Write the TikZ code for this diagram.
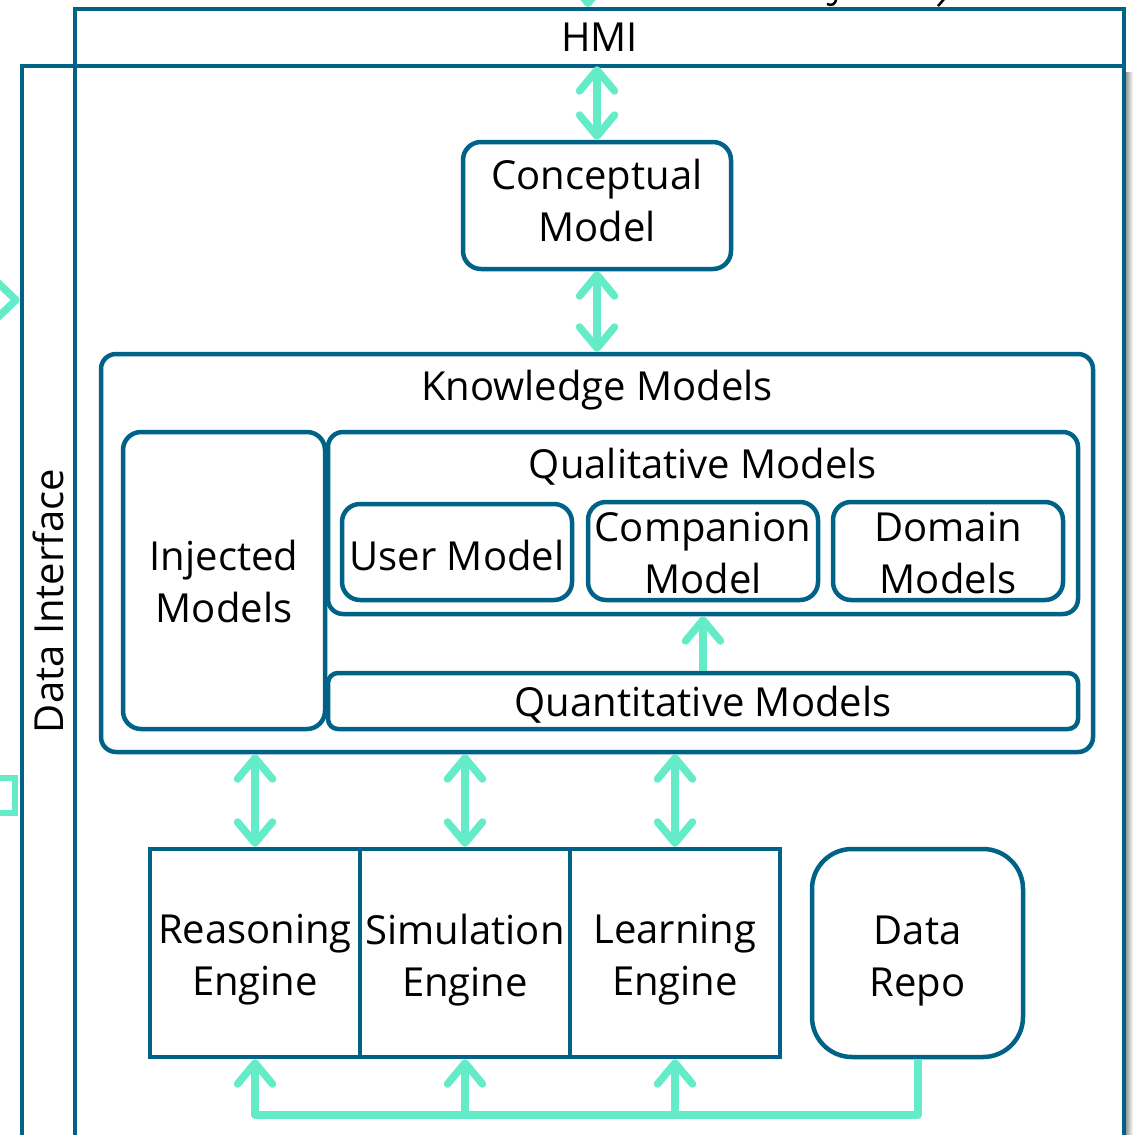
\documentclass[tikz,border=0pt]{standalone}
\usepackage{fontspec}
\setmainfont{Open Sans}
\usetikzlibrary{arrows.meta}
\definecolor{petrol}{RGB}{0,98,135}
\definecolor{mint}{RGB}{100,235,200}
\begin{document}
\begin{tikzpicture}[x=1pt,y=-1pt,
  fnt/.style={font=\fontsize{40}{52}\selectfont},
  rbox/.style={draw=petrol,line width=4.5pt,rounded corners=18pt,inner sep=0pt},
  sbox/.style={draw=petrol,line width=4.5pt,inner sep=0pt},
  lbl/.style={inner sep=0pt,align=center,fnt},
  flow/.style={draw=mint,line width=7.5pt},
  arr/.style={-{Straight Barb[length=21pt,width=35pt,round]}},
  biarr/.style={{Straight Barb[length=21pt,width=35pt,round]}-{Straight Barb[length=21pt,width=35pt,round]}}]
\useasboundingbox (0,0) rectangle (1133,1135);
\clip (0,0) rectangle (1133,1135);
\fill[white] (0,0) rectangle (1133,1135);
% right shadow
\shade[left color=black!40,right color=white] (1126,72) rectangle (1133,1135);
% outer frames
\draw[petrol,line width=4.5pt,line join=miter] (75,1145) -- (75,9) -- (1124,9) -- (1124,1145);
\draw[petrol,line width=4.5pt,line join=miter] (22,1145) -- (22,66) -- (1124,66);
\node[lbl,minimum width=1049pt,minimum height=57pt] (hmi) at (599.5,37.5) {HMI};
\node[lbl,rotate=90] (di) at (48,601) {Data Interface};
% cropped fragments of the surrounding diagram
\draw[flow,arr] (588,-40) -- (588,7);
\draw[line width=2.5pt] (836,-2) .. controls (836,5) and (831,6) .. (827,4);
\draw[line width=2.5pt] (945,-2) -- (938,6);
\draw[flow,line join=round] (-6,279) -- (16,300) -- (-6,321);
\draw[flow,line width=6pt] (-3,778) -- (15,778) -- (15,813) -- (-3,813);
% conceptual model
\node[rbox,minimum width=268pt,minimum height=127pt] (concept) at (597,205.5) {};
\node[lbl] (conceptt) at (597,200.5) {Conceptual\\Model};
% knowledge models
\node[rbox,rounded corners=15pt,minimum width=992pt,minimum height=398pt] (km) at (597,553) {};
\node[lbl] (kmt) at (597,390) {Knowledge Models};
\node[rbox,minimum width=202pt,minimum height=297pt] (inj) at (224,580.5) {};
\node[lbl] (injt) at (224,581.5) {Injected\\Models};
\node[rbox,rounded corners=15pt,minimum width=750pt,minimum height=182pt] (qual) at (703,523) {};
\node[lbl] (qualt) at (703,467) {Qualitative Models};
\node[rbox,minimum width=230pt,minimum height=96pt] (user) at (457,552) {};
\node[lbl] (usert) at (457,555) {User Model};
\node[rbox,minimum width=230pt,minimum height=98pt] (comp) at (703,551) {};
\node[lbl] (compt) at (703,553) {Companion\\Model};
\node[rbox,minimum width=230pt,minimum height=98pt] (dom) at (948,551) {};
\node[lbl] (domt) at (948,553) {Domain\\Models};
\node[rbox,rounded corners=10pt,minimum width=750pt,minimum height=56pt] (quant) at (703,701) {};
\node[lbl] (quantt) at (703,705) {Quantitative Models};
% engines
\node[sbox,minimum width=210pt,minimum height=208pt] (reason) at (255,953) {};
\node[lbl] (reasont) at (255,960) {Reasoning\\Engine};
\node[sbox,minimum width=210pt,minimum height=208pt] (sim) at (465,953) {};
\node[lbl] (simt) at (465,960) {Simulation\\Engine};
\node[sbox,minimum width=210pt,minimum height=208pt] (learn) at (675,953) {};
\node[lbl] (learnt) at (675,960) {Learning\\Engine};
\node[rbox,rounded corners=40pt,minimum width=211pt,minimum height=208pt] (repo) at (917.5,953) {};
\node[lbl] (repot) at (917.5,961) {Data\\Repo};
% connectors
\draw[flow,biarr] (hmi.south -| concept.north) -- (concept.north);
\draw[flow,biarr] (concept.south) -- (km.north);
\draw[flow,arr] (quant.north) -- (qual.south);
\draw[flow,biarr] (reason.north |- km.south) -- (reason.north);
\draw[flow,biarr] (sim.north |- km.south) -- (sim.north);
\draw[flow,biarr] (learn.north |- km.south) -- (learn.north);
\coordinate (bus) at (918,1115);
\draw[flow,arr,line join=round] (repo.south -| bus) -- (bus) -| (reason.south);
\draw[flow,arr] (sim.south |- bus) -- (sim.south);
\draw[flow,arr] (learn.south |- bus) -- (learn.south);
\end{tikzpicture}
\end{document}
